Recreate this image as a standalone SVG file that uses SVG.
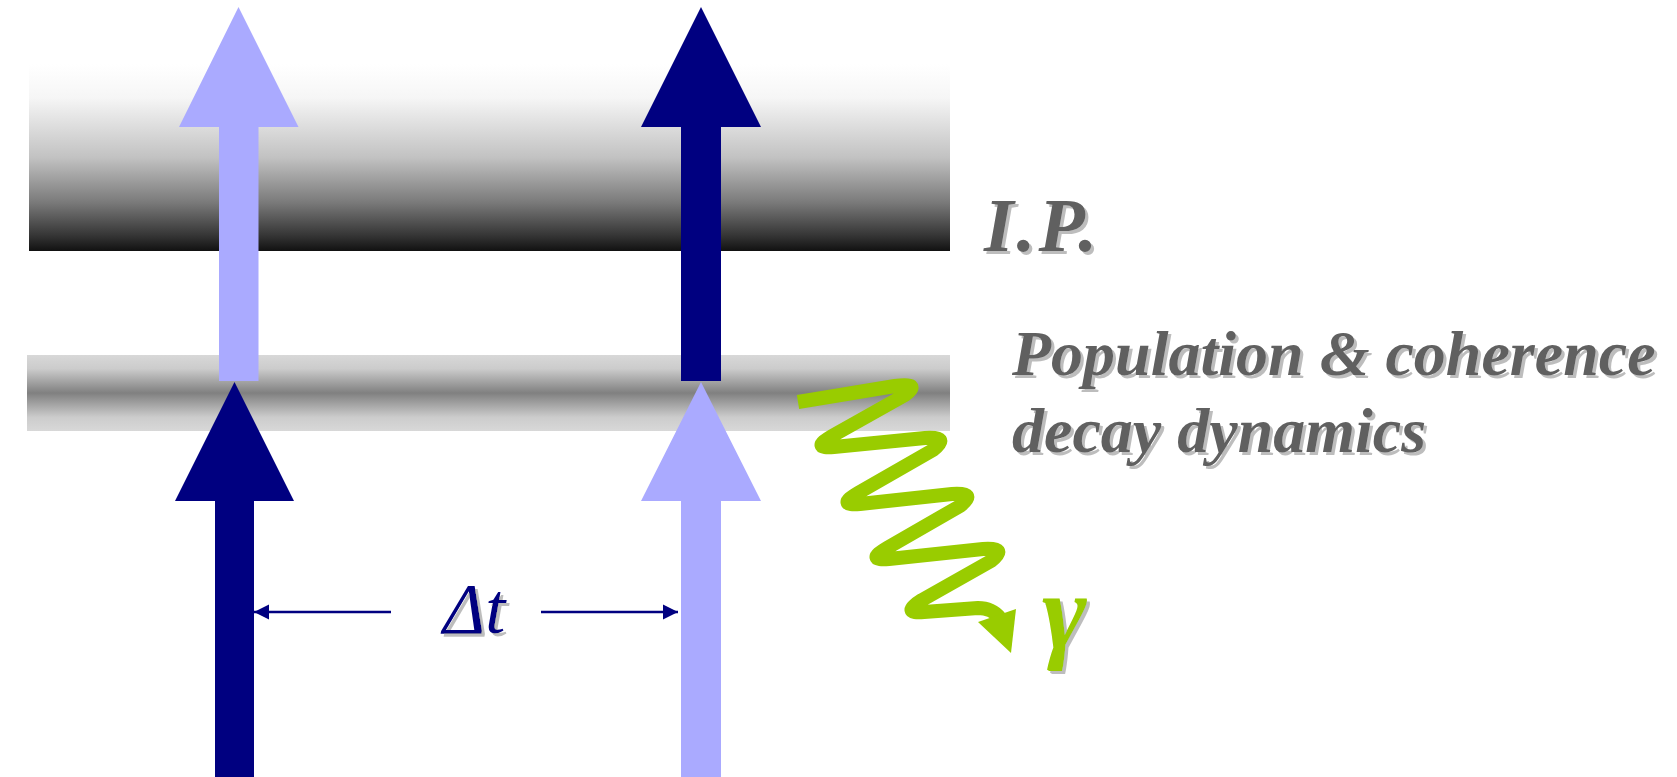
<svg xmlns="http://www.w3.org/2000/svg" width="1677" height="777" viewBox="0 0 1677 777">
  <defs>
    <linearGradient id="gradIP" x1="0" y1="0" x2="0" y2="1">
      <stop offset="0" stop-color="#ffffff"/>
      <stop offset="0.18" stop-color="#f6f6f6"/>
      <stop offset="0.5" stop-color="#c2c2c2"/>
      <stop offset="0.74" stop-color="#7a7a7a"/>
      <stop offset="0.92" stop-color="#343434"/>
      <stop offset="1" stop-color="#111111"/>
    </linearGradient>
    <linearGradient id="gradMid" x1="0" y1="0" x2="0" y2="1">
      <stop offset="0" stop-color="#d8d8d8"/>
      <stop offset="0.18" stop-color="#cccccc"/>
      <stop offset="0.5" stop-color="#808080"/>
      <stop offset="0.82" stop-color="#cccccc"/>
      <stop offset="1" stop-color="#d8d8d8"/>
    </linearGradient>
    <filter id="shadow" x="-10%" y="-10%" width="130%" height="130%">
      <feDropShadow dx="3" dy="3" stdDeviation="0" flood-color="#bdbdbd" flood-opacity="1"/>
    </filter>
    <marker id="arrowNavy" markerUnits="userSpaceOnUse" markerWidth="16" markerHeight="16" viewBox="0 0 16 16" refX="15" refY="8" orient="auto">
      <path d="M0,0.5 L15,8 L0,15.5 Z" fill="#000080"/>
    </marker>
    <style>
      .light { fill: #aaaaff; }
      .navy { fill: #000080; }
      .label { font-family: "Liberation Serif", "Times New Roman", serif; font-weight: bold; font-style: italic; fill: #606060; filter: url(#shadow); }
      .conn { stroke: #000080; stroke-width: 2.5; fill: none; marker-end: url(#arrowNavy); }
    </style>
  </defs>
  <rect width="1677" height="777" fill="#ffffff"/>

  <g id="band-ip">
    <rect x="29" y="64" width="921" height="187" fill="url(#gradIP)"/>
  </g>
  <g id="band-intermediate">
    <rect x="27" y="355" width="923" height="76" fill="url(#gradMid)"/>
  </g>

  <g id="arrow-upper-left">
    <polygon class="light" points="238.5,7 298.5,127 258.5,127 258.5,381 219,381 219,127 179,127"/>
  </g>
  <g id="arrow-upper-right">
    <polygon class="navy" points="701,7 761,127 721,127 721,381 681,381 681,127 641,127"/>
  </g>
  <g id="arrow-lower-left">
    <polygon class="navy" points="234.5,382 294,501 254,501 254,777 215,777 215,501 175,501"/>
  </g>
  <g id="arrow-lower-right">
    <polygon class="light" points="701,382 761,501 721,501 721,777 681,777 681,501 641,501"/>
  </g>

  <g id="connectors">
    <line class="conn" x1="391" y1="612" x2="254" y2="612"/>
    <line class="conn" x1="541" y1="612" x2="678" y2="612"/>
  </g>

  <g id="photon">
    <path d="M 798 402 L 895 386 Q 922 382 905 395 L 832 436 Q 810 449 834 447 L 925 438 Q 951 436 933 450 L 858 493 Q 836 506 860 504 L 952 494 Q 978 492 960 506 L 887 548 Q 865 561 889 559 L 983 549 Q 1009 547 991 561 L 922 600 Q 900 614 924 612 L 978 608 Q 992 608 1000 618" fill="none" stroke="#99cc00" stroke-width="14" stroke-linejoin="round"/>
    <polygon points="978,622 1016,609 1011,653" fill="#99cc00"/>
  </g>

  <g id="label-dt">
    <text x="443" y="633" font-family="Liberation Serif, serif" font-style="italic" font-size="72" fill="#000080" filter="url(#shadow)">Δt</text>
  </g>
  <g id="label-ip">
    <text class="label" x="984" y="251" font-size="76" letter-spacing="3">I.P.</text>
  </g>
  <g id="label-decay">
    <text class="label" x="1012" y="375" font-size="64">Population &amp; coherence</text>
    <text class="label" x="1012" y="452" font-size="64">decay dynamics</text>
  </g>
  <g id="label-gamma">
    <text x="1042" y="648" font-family="Liberation Serif, serif" font-style="italic" font-weight="bold" font-size="108" fill="#99cc00" filter="url(#shadow)">γ</text>
  </g>
</svg>
